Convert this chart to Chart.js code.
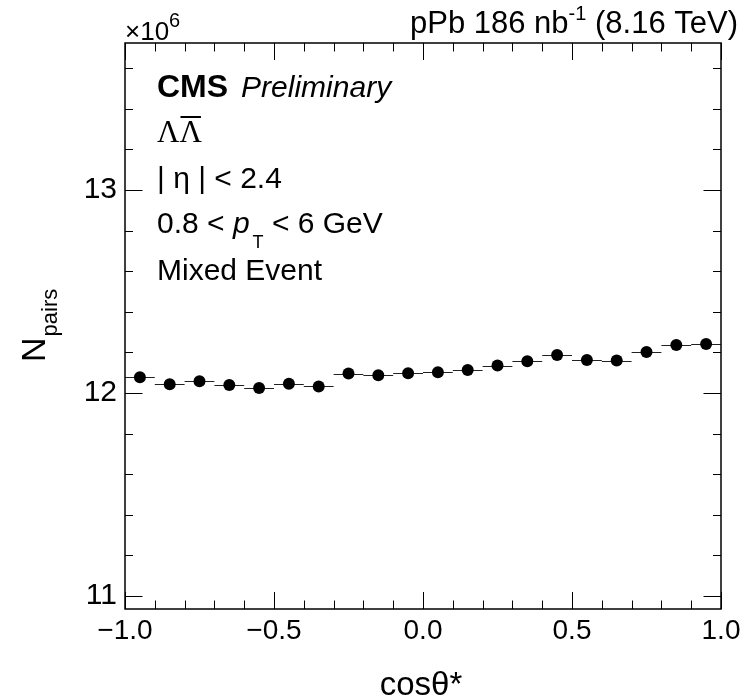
<!DOCTYPE html>
<html>
<head>
<meta charset="utf-8">
<script src="https://cdn.jsdelivr.net/npm/chart.js@4.4.1/dist/chart.umd.min.js"></script>
<style>
  html, body { margin: 0; padding: 0; background: #fff; }
  canvas { display: block; }
</style>
</head>
<body>
<canvas id="chart" width="743" height="698"></canvas>
<script>
// cos(theta*) bin centres, bins are 0.1 wide
const binCenters = [-0.95, -0.85, -0.75, -0.65, -0.55, -0.45, -0.35, -0.25, -0.15, -0.05,
                    0.05, 0.15, 0.25, 0.35, 0.45, 0.55, 0.65, 0.75, 0.85, 0.95];
const binWidth = 0.1;
// mixed-event pair counts, in units of 10^6
const pairCounts = [12.077, 12.043, 12.058, 12.039, 12.025, 12.046, 12.032, 12.096, 12.087, 12.097,
                    12.102, 12.113, 12.135, 12.156, 12.187, 12.163, 12.160, 12.202, 12.236, 12.241];

const xTickValues = [-1, -0.5, 0, 0.5, 1];
const yTickValues = [11, 12, 13];
const yMin = 10.936, yMax = 13.724;

const SANS = '"Liberation Sans", Arial, Helvetica, sans-serif';
const SERIF = '"Liberation Serif", "Times New Roman", serif';

function fmtX(v) {
    return (v < 0 ? '\u2212' : '') + Math.abs(v).toFixed(1);
}

// draw a row of text pieces one after another
function drawRuns(ctx, x, y, runs) {
    runs.forEach(r => {
        x += r.gap || 0;
        ctx.font = r.font;
        ctx.fillText(r.text, x, y + (r.dy || 0));
        x += ctx.measureText(r.text).width;
    });
    return x;
}

function runsWidth(ctx, runs) {
    let w = 0;
    runs.forEach(r => {
        ctx.font = r.font;
        w += (r.gap || 0) + ctx.measureText(r.text).width;
    });
    return w;
}

// horizontal bin-width bars under the markers
const binBars = {
    id: 'binBars',
    beforeDatasetsDraw(chart) {
        const {ctx, scales: {x, y}} = chart;
        ctx.save();
        ctx.strokeStyle = '#222';
        ctx.lineWidth = 1;
        ctx.beginPath();
        binCenters.forEach((c, i) => {
            const py = Math.round(y.getPixelForValue(pairCounts[i])) + 0.5;
            ctx.moveTo(x.getPixelForValue(c - binWidth / 2), py);
            ctx.lineTo(x.getPixelForValue(c + binWidth / 2), py);
        });
        ctx.stroke();
        ctx.restore();
    }
};

// ROOT style frame, inward ticks on all sides, and the text
const rootFrame = {
    id: 'rootFrame',
    afterDraw(chart) {
        const {ctx, chartArea: a, scales: {x, y}} = chart;
        ctx.save();
        ctx.strokeStyle = '#000';
        ctx.lineWidth = 1;
        ctx.beginPath();
        for (let i = 0; i <= 20; i++) {
            const v = -1 + i * 0.1;
            const px = Math.round(x.getPixelForValue(v)) + 0.5;
            const len = (i % 5 === 0) ? 17 : 8.5;
            ctx.moveTo(px, a.bottom); ctx.lineTo(px, a.bottom - len);
            ctx.moveTo(px, a.top); ctx.lineTo(px, a.top + len);
        }
        for (let k = Math.ceil(yMin / 0.2); k * 0.2 <= yMax; k++) {
            const v = k * 0.2;
            const py = Math.round(y.getPixelForValue(v)) + 0.5;
            const len = (k % 5 === 0) ? 17.5 : 8;
            ctx.moveTo(a.left, py); ctx.lineTo(a.left + len, py);
            ctx.moveTo(a.right, py); ctx.lineTo(a.right - len, py);
        }
        ctx.stroke();
        ctx.lineWidth = 1.5;
        ctx.strokeRect(a.left, a.top, a.right - a.left, a.bottom - a.top);

        ctx.fillStyle = '#000';
        ctx.textAlign = 'left';
        ctx.textBaseline = 'alphabetic';

        // exponent label
        drawRuns(ctx, a.left, 40, [
            {text: '\u00d710', font: `26px ${SANS}`},
            {text: '6', font: `20px ${SANS}`, dy: -13}
        ]);

        // luminosity label, right aligned
        const lumi = [
            {text: 'pPb 186 nb', font: `31px ${SANS}`},
            {text: '-1', font: `20px ${SANS}`, dy: -13},
            {text: ' (8.16 TeV)', font: `31px ${SANS}`}
        ];
        drawRuns(ctx, 738 - runsWidth(ctx, lumi), 33, lumi);

        const tx = a.left + 32;
        drawRuns(ctx, tx, 97, [
            {text: 'CMS', font: `bold 32px ${SANS}`},
            {text: 'Preliminary', font: `italic 30px ${SANS}`, gap: 13}
        ]);

        ctx.font = `31px ${SERIF}`;
        ctx.fillText('\u039b\u039b', tx, 142);
        const lw = ctx.measureText('\u039b').width;
        ctx.lineWidth = 2;
        ctx.beginPath();
        ctx.moveTo(tx + lw + 1, 117);
        ctx.lineTo(tx + 2 * lw - 1, 117);
        ctx.stroke();

        ctx.font = `30px ${SANS}`;
        ctx.fillText('| \u03b7 | < 2.4', tx, 188);

        drawRuns(ctx, tx, 233, [
            {text: '0.8 < ', font: `30px ${SANS}`},
            {text: 'p', font: `italic 30px ${SANS}`},
            {text: 'T', font: `18px ${SANS}`, dy: 15, gap: 3},
            {text: ' < 6 GeV', font: `30px ${SANS}`}
        ]);

        ctx.font = `30px ${SANS}`;
        ctx.fillText('Mixed Event', tx, 280);

        // x axis title
        const xt = [{text: 'cos\u03b8*', font: `33px ${SANS}`}];
        drawRuns(ctx, 421 - runsWidth(ctx, xt) / 2, 695, xt);

        // y axis title, rotated
        ctx.translate(45, 362);
        ctx.rotate(-Math.PI / 2);
        drawRuns(ctx, 0, 0, [
            {text: 'N', font: `34px ${SANS}`},
            {text: 'pairs', font: `22px ${SANS}`, dy: 12, gap: 1}
        ]);
        ctx.restore();
    }
};

const ctx = document.getElementById('chart').getContext('2d');
const chart = new Chart(ctx, {
    type: 'scatter',
    data: {
        datasets: [{
            label: 'Mixed Event',
            data: binCenters.map((c, i) => ({x: c, y: pairCounts[i]})),
            pointRadius: 6,
            pointHoverRadius: 6,
            pointBackgroundColor: '#000',
            pointBorderWidth: 0,
            showLine: false
        }]
    },
    options: {
        responsive: false,
        animation: false,
        devicePixelRatio: 1,
        layout: {
            padding: {left: 0, top: 43, right: 22, bottom: 0}
        },
        plugins: {
            legend: {display: false},
            tooltip: {enabled: false}
        },
        scales: {
            x: {
                type: 'linear',
                min: -1,
                max: 1,
                afterBuildTicks: s => { s.ticks = xTickValues.map(v => ({value: v})); },
                afterFit: s => {
                    s.height = 89;
                    s.paddingLeft = 0; s.paddingRight = 0;
                },
                grid: {display: false, drawTicks: false},
                border: {display: false},
                ticks: {
                    autoSkip: false,
                    maxRotation: 0,
                    padding: 5,
                    color: '#000',
                    font: {family: SANS, size: 28},
                    callback: v => fmtX(v)
                }
            },
            y: {
                type: 'linear',
                min: yMin,
                max: yMax,
                afterBuildTicks: s => { s.ticks = yTickValues.map(v => ({value: v})); },
                afterFit: s => {
                    s.width = 125;
                    s.paddingTop = 0; s.paddingBottom = 0;
                },
                grid: {display: false, drawTicks: false},
                border: {display: false},
                ticks: {
                    autoSkip: false,
                    padding: 8,
                    color: '#000',
                    font: {family: SANS, size: 30},
                    callback: v => String(v)
                }
            }
        }
    },
    plugins: [binBars, rootFrame]
});
</script>
</body>
</html>
